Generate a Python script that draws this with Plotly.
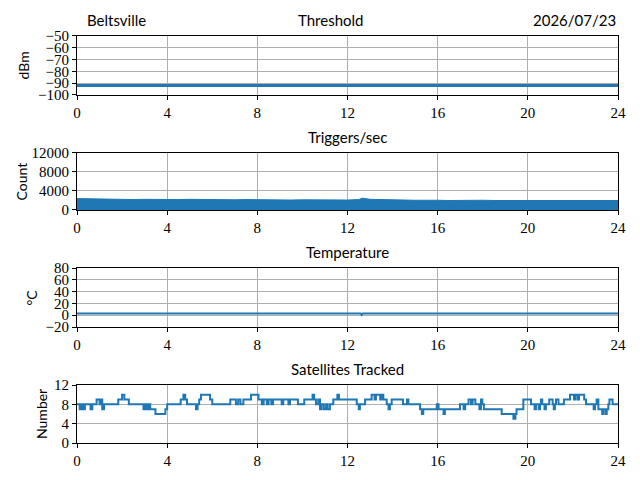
import plotly.graph_objects as go

# Time axis in hours since midnight
THRESH_HOURS = [0, 24]
THRESH_DBM = [-92, -92]

# Upper edge of the trigger rate band, read every half hour
TRIG_HOURS = [0, 0.5, 1, 1.5, 2, 2.5, 3, 3.5, 4, 4.5, 5, 5.5, 6, 6.5, 7, 7.5, 8,
              8.5, 9, 9.5, 10, 10.5, 11, 11.5, 12, 12.5, 12.65, 13, 13.5, 14,
              14.5, 15, 15.5, 16, 16.5, 17, 17.5, 18, 18.5, 19, 19.5, 20, 20.5,
              21, 21.5, 22, 22.5, 23, 23.5, 24]
TRIG_COUNT = [2400, 2350, 2250, 2300, 2250, 2200, 2250, 2200, 2150, 2200, 2250,
              2200, 2200, 2250, 2150, 2200, 2150, 2100, 2150, 2100, 2150, 2100,
              2100, 2050, 2100, 2200, 2500, 2250, 2150, 2100, 2100, 2050, 2100,
              2050, 2000, 2050, 2000, 2050, 2000, 2000, 2050, 2000, 2050, 2000,
              2000, 2050, 2000, 2000, 2050, 2000]

TEMP_HOURS = [0, 12.58, 12.63, 12.68, 24]
TEMP_C = [3, 3, 0.5, 3, 3]

# Satellites tracked (step changes)
SAT_HOURS = [0, 0.12, 0.2, 0.28, 0.35, 0.6, 0.68, 0.87, 1.0, 1.08, 1.12, 1.2,
             1.83, 2.0, 2.1, 2.3, 2.95, 3.02, 3.1, 3.18, 3.25, 3.33, 3.48, 3.92,
             4.0, 4.6, 4.72, 4.8, 4.88, 5.28, 5.35, 5.42, 5.5, 5.9, 6.0, 6.8,
             7.05, 7.15, 7.25, 7.38, 7.72, 8.05, 8.2, 8.28, 8.42, 8.5, 8.62,
             8.7, 9.08, 9.15, 9.38, 9.45, 9.8, 10.08, 10.45, 10.52, 10.6, 10.7,
             10.78, 10.85, 10.95, 11.05, 11.12, 11.22, 11.37, 11.55, 11.62,
             11.67, 12.41, 12.5, 12.55, 12.6, 12.78, 13.07, 13.2, 13.26, 13.45,
             13.5, 13.59, 13.74, 13.82, 13.88, 13.96, 14.46, 14.64, 14.7, 15.22,
             15.3, 15.36, 15.96, 16.04, 16.18, 16.26, 16.32, 16.99, 17.15,
             17.22, 17.37, 17.48, 17.55, 17.67, 17.85, 17.92, 17.98, 18.05,
             18.32, 18.84, 19.36, 19.45, 19.5, 19.8, 20.14, 20.3, 20.36, 20.48,
             20.54, 20.58, 20.64, 20.74, 20.8, 20.95, 21.1, 21.15, 21.2, 21.25,
             21.36, 21.6, 21.84, 21.87, 22.05, 22.1, 22.2, 22.27, 22.5, 22.58,
             22.92, 22.98, 23.05, 23.13, 23.3, 23.35, 23.45, 23.5, 23.57, 23.62,
             23.76, 24]
SAT_COUNT = [8, 7, 8, 7, 8, 7, 8, 9, 8, 9, 7, 8,
             9, 10, 9, 8, 7, 8, 7, 8, 7, 7, 6, 7,
             8, 9, 10, 9, 8, 7, 8, 9, 10, 9, 8, 9,
             8, 9, 8, 9, 10, 9, 8, 9, 8, 9, 8,
             9, 8, 9, 8, 9, 8, 9, 10, 9, 8, 9,
             7, 8, 7, 8, 7, 8, 9, 10, 9,
             9, 8, 7, 8, 8, 9, 10, 9, 10, 9,
             10, 9, 8, 7, 8, 9, 8, 9, 8, 7,
             6, 7, 8, 7, 7, 6, 7, 8, 7,
             8, 9, 8, 9, 8, 7, 9, 8, 7,
             7, 6, 5, 6, 7, 9, 8, 7, 8, 7,
             8, 9, 8, 7, 8, 9, 8, 7, 8, 9,
             8, 9, 9, 10, 9, 10, 9, 10, 9, 8,
             7, 8, 9, 7, 6, 7, 6, 7, 8, 9,
             8, 8]

X_TICKS = [0, 4, 8, 12, 16, 20, 24]

BLUE = '#1f77b4'
GRID = '#b0b0b0'
SERIF = 'Liberation Serif'
SANS = 'Lato'

# the page adds an 8px body margin, so the figure is laid out 8px up/left
PLOT_W = 541
DOMAINS = [[0.81875, 0.94167], [0.57917, 0.69792],
           [0.33542, 0.45833], [0.09375, 0.21458]]

PANELS = [
    dict(title='Threshold', title_x=0.4695, ylabel='dBm', ylabel_px=23,
         yrange=[-100, -50], yticks=[-100, -90, -80, -70, -60, -50]),
    dict(title='Triggers/sec', title_x=0.5, ylabel='Count', ylabel_px=21,
         yrange=[0, 12000], yticks=[0, 4000, 8000, 12000]),
    dict(title='Temperature', title_x=0.5, ylabel='°C', ylabel_px=31,
         yrange=[-20, 80], yticks=[-20, 0, 20, 40, 60, 80]),
    dict(title='Satellites Tracked', title_x=0.5, ylabel='Number', ylabel_px=41,
         yrange=[0, 12], yticks=[0, 4, 8, 12]),
]


def tick_text(vals):
    return [str(v).replace('-', '\u2212') for v in vals]


fig = go.Figure()

fig.add_trace(go.Scatter(x=THRESH_HOURS, y=THRESH_DBM, mode='lines',
                         line=dict(color=BLUE, width=3), xaxis='x', yaxis='y'))
fig.add_trace(go.Scatter(x=TRIG_HOURS, y=TRIG_COUNT, mode='lines',
                         line=dict(color=BLUE, width=1), fill='tozeroy',
                         fillcolor=BLUE, xaxis='x2', yaxis='y2'))
fig.add_trace(go.Scatter(x=TEMP_HOURS, y=TEMP_C, mode='lines',
                         line=dict(color=BLUE, width=2), xaxis='x3', yaxis='y3'))
fig.add_trace(go.Scatter(x=SAT_HOURS, y=SAT_COUNT, mode='lines',
                         line=dict(color=BLUE, width=2, shape='hv'),
                         xaxis='x4', yaxis='y4'))

layout = dict(
    width=640, height=480,
    margin=dict(l=69, r=30, t=0, b=0),
    plot_bgcolor='white', paper_bgcolor='white',
    showlegend=False,
)

axis_style = dict(
    ticks='outside', ticklen=4, tickwidth=1, tickcolor='black',
    showgrid=True, gridcolor=GRID, gridwidth=1,
    showline=True, linecolor='black', linewidth=1, mirror=True,
    zeroline=False, automargin=False,
    tickfont=dict(family=SERIF, size=15, color='black'),
)

annotations = []
for i, (panel, dom) in enumerate(zip(PANELS, DOMAINS)):
    n = '' if i == 0 else str(i + 1)
    layout['xaxis' + n] = dict(
        domain=[0, 1], anchor='y' + n, range=[0, 24],
        tickvals=X_TICKS, ticktext=[str(t) for t in X_TICKS], **axis_style)
    layout['yaxis' + n] = dict(
        domain=dom, anchor='x' + n, range=panel['yrange'],
        tickvals=panel['yticks'], ticktext=tick_text(panel['yticks']),
        **axis_style)
    annotations.append(dict(
        text=panel['title'], xref='paper', yref='paper', x=panel['title_x'],
        y=dom[1], xanchor='center', yanchor='bottom', yshift=5, showarrow=False,
        font=dict(family=SANS, size=15, color='black')))
    annotations.append(dict(
        text=panel['ylabel'], xref='paper', yref='paper',
        x=(panel['ylabel_px'] - 77) / PLOT_W, y=(dom[0] + dom[1]) / 2,
        xanchor='center', yanchor='middle', textangle=-90, showarrow=False,
        font=dict(family=SANS, size=14, color='black')))

annotations.append(dict(
    text='Beltsville', xref='paper', yref='paper', x=0.015, y=DOMAINS[0][1],
    xanchor='left', yanchor='bottom', yshift=5, showarrow=False,
    font=dict(family=SANS, size=15, color='black')))
annotations.append(dict(
    text='2026/07/23', xref='paper', yref='paper', x=1, y=DOMAINS[0][1],
    xanchor='right', yanchor='bottom', yshift=5, showarrow=False,
    font=dict(family=SANS, size=15, color='black')))

layout['annotations'] = annotations
fig.update_layout(**layout)

fig.write_html("out.html")
